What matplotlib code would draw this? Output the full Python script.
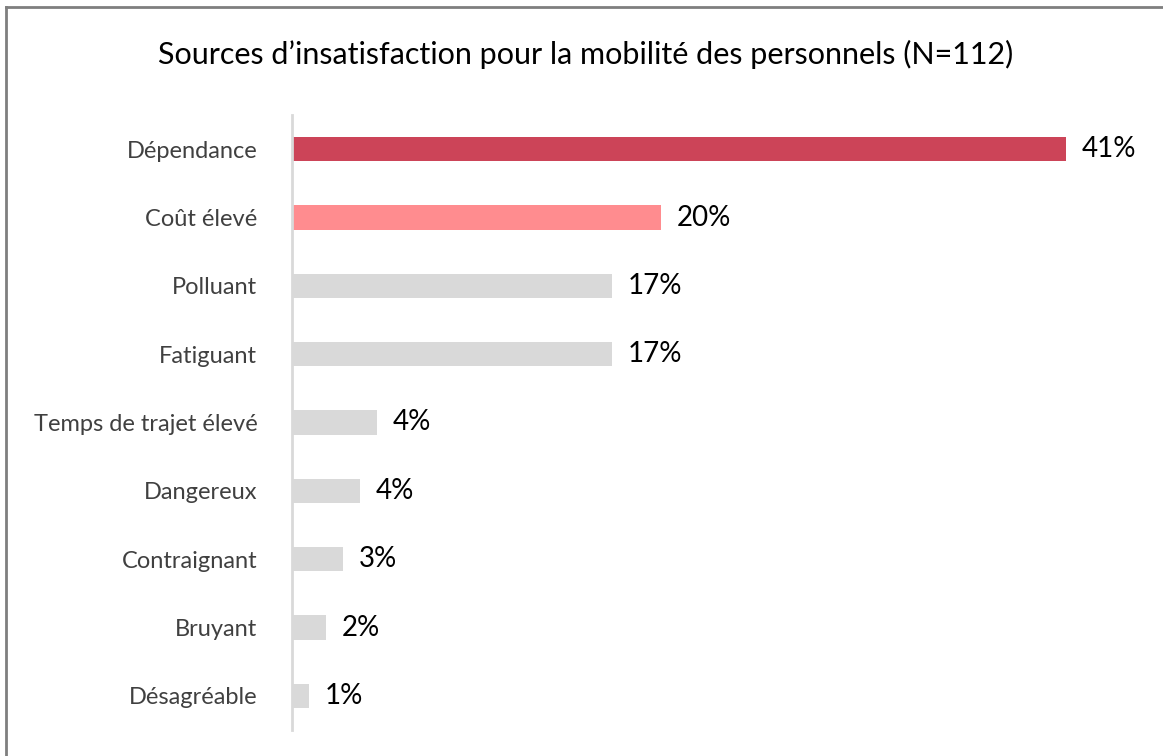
import matplotlib
matplotlib.use("Agg")
import matplotlib.pyplot as plt
from matplotlib.lines import Line2D

plt.rcParams['font.family'] = ['Lato', 'DejaVu Sans']

# data (share of N=112 respondents, %)
categories = ["Dépendance", "Coût élevé", "Polluant", "Fatiguant",
              "Temps de trajet élevé", "Dangereux", "Contraignant",
              "Bruyant", "Désagréable"]
values = [41.1, 19.6, 17.0, 17.0, 4.5, 3.6, 2.7, 1.8, 0.9]
labels = ["41%", "20%", "17%", "17%", "4%", "4%", "3%", "2%", "1%"]
colors = ["#CC4458", "#FF8C8F"] + ["#D9D9D9"] * 7

W, H = 1163, 756
fig = plt.figure(figsize=(W / 100, H / 100), dpi=100)

# axes placed so that bars start at x=292 and the band spans y=115..730
xmax = max(values) * 1.08
ax_w = 774 * 1.08
ax = fig.add_axes([292 / W, (H - 730) / H, ax_w / W, 615 / H])

ypos = list(range(len(categories)))
ax.barh(ypos, values, height=0.36, color=colors)
ax.set_ylim(len(categories) - 0.5, -0.5)
ax.set_xlim(0, xmax)

for y, v, lab in zip(ypos, values, labels):
    ax.text(v + 0.85, y, lab, va='center', ha='left', fontsize=20, color='black')

ax.set_yticks(ypos)
ax.set_yticklabels(categories, fontsize=17, color='#404040')
ax.tick_params(axis='y', length=0, pad=25)
ax.set_xticks([])
for s in ['top', 'right', 'bottom']:
    ax.spines[s].set_visible(False)
ax.spines['left'].set_color('#D9D9D9')
ax.spines['left'].set_linewidth(2)

fig.text(586 / W, 1 - 64 / H, "Sources d\u2019insatisfaction pour la mobilité des personnels (N=112)",
         ha='center', va='baseline', fontsize=22, color='black')

# outer frame (only left and top edges are visible in the crop)
fig.add_artist(Line2D([6 / W, 6 / W], [0, 1 - 7 / H], transform=fig.transFigure,
                      color='#7F7F7F', linewidth=2))
fig.add_artist(Line2D([6 / W, 1], [1 - 7 / H, 1 - 7 / H], transform=fig.transFigure,
                      color='#7F7F7F', linewidth=2))

fig.savefig("out.png", dpi=100, facecolor='white')
